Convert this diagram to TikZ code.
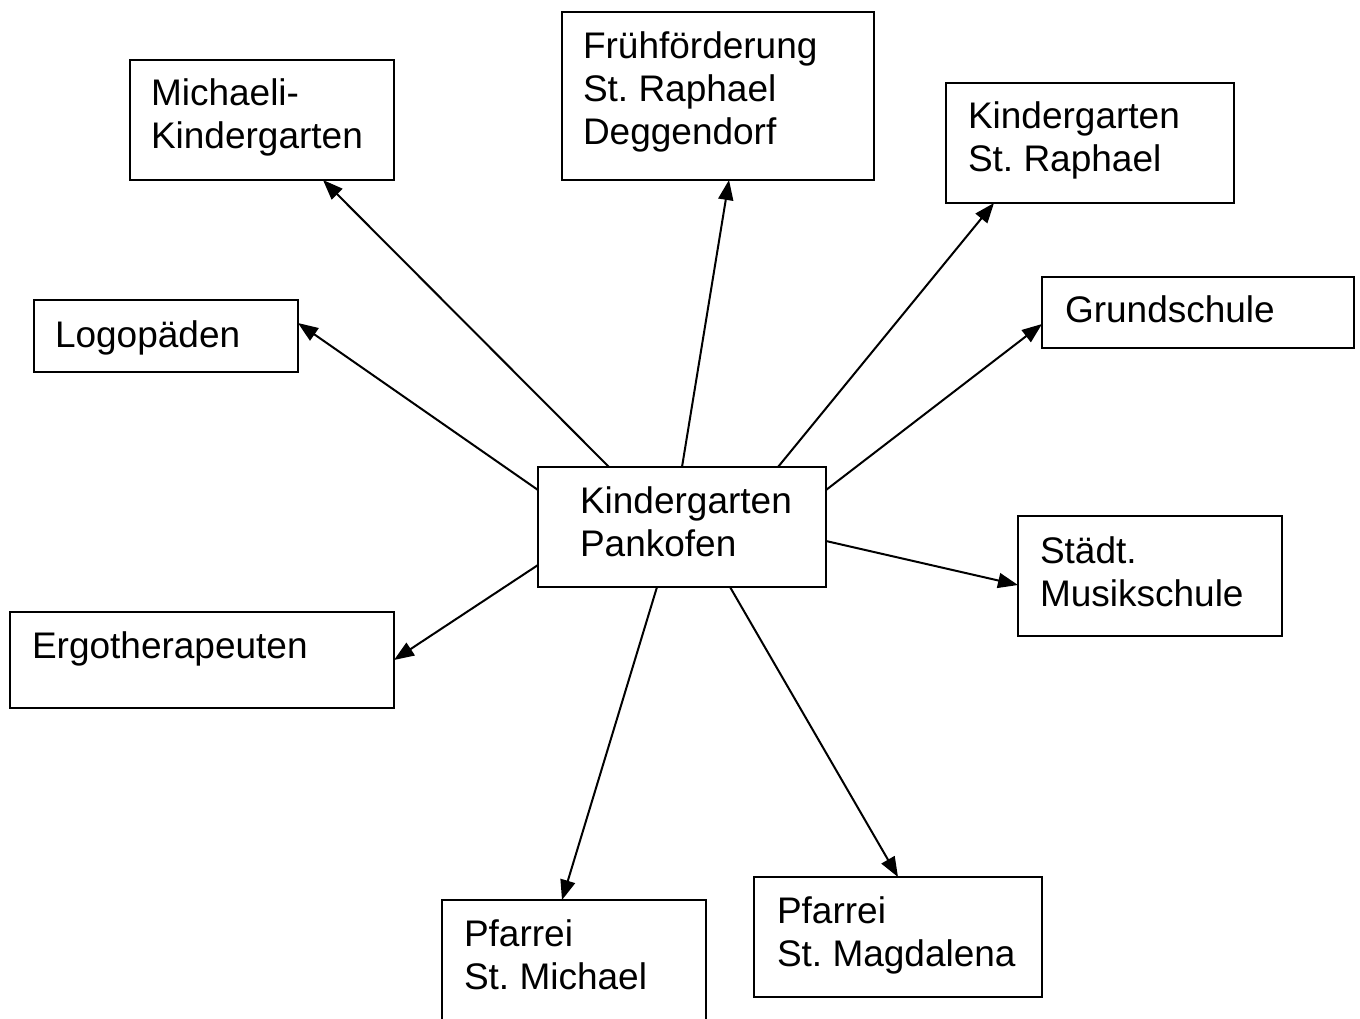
\documentclass[tikz,border=0pt]{standalone}
\usepackage{fontspec}
\setmainfont{Liberation Sans}
\usetikzlibrary{arrows.meta}
\frenchspacing
\tikzset{
  box/.style={draw, line width=2pt, rectangle, inner sep=0pt, outer sep=0pt, anchor=north west},
  txt/.style={inner sep=0pt, outer sep=0pt, anchor=base west, font=\fontsize{37}{43}\selectfont},
  arr/.style={line width=2pt, -{Triangle[length=20pt,width=15pt]}}
}
\newcommand{\twoL}[2]{\vtop{\hbox{#1}\hbox{#2}}}
\newcommand{\threeL}[3]{\vtop{\hbox{#1}\hbox{#2}\hbox{#3}}}
\begin{document}
\begin{tikzpicture}[x=1pt,y=-1pt]
\useasboundingbox (0,0) rectangle (1360,1018);
\clip (0,0) rectangle (1360,1018);
\fill[white] (0,0) rectangle (1360,1018);
% boxes
\node[box, minimum width=288pt, minimum height=120pt] (c) at (538,467) {};
\node[box, minimum width=264pt, minimum height=120pt] (mich) at (130,60) {};
\node[box, minimum width=312pt, minimum height=168pt] (fruh) at (562,12) {};
\node[box, minimum width=288pt, minimum height=120pt] (kgr) at (946,83) {};
\node[box, minimum width=312pt, minimum height=71pt] (grund) at (1042,277) {};
\node[box, minimum width=264pt, minimum height=72pt] (logo) at (34,300) {};
\node[box, minimum width=264pt, minimum height=120pt] (musik) at (1018,516) {};
\node[box, minimum width=384pt, minimum height=96pt] (ergo) at (10,612) {};
\node[box, minimum width=264pt, minimum height=150pt] (pmich) at (442,900) {};
\node[box, minimum width=288pt, minimum height=120pt] (pmag) at (754,877) {};
% texts
\node[txt] (tc) at (580,513) {\twoL{Kindergarten}{Pankofen}};
\node[txt] (tmich) at (151,105) {\twoL{Michaeli-}{Kindergarten}};
\node[txt] (tfruh) at (583,58) {\threeL{Frühförderung}{St. Raphael}{Deggendorf}};
\node[txt] (tkgr) at (968,128) {\twoL{Kindergarten}{St. Raphael}};
\node[txt] (tgrund) at (1065,322) {Grundschule};
\node[txt] (tlogo) at (55,347) {Logopäden};
\node[txt] (tmusik) at (1040,563) {\twoL{Städt.}{Musikschule}};
\node[txt] (tergo) at (32,658) {Ergotherapeuten};
\node[txt] (tpmich) at (464,946) {\twoL{Pfarrei}{St. Michael}};
\node[txt] (tpmag) at (777,923) {\twoL{Pfarrei}{St. Magdalena}};
% arrows
\draw[arr] ([xshift=71pt]c.north west) -- ([xshift=193pt]mich.south west);
\draw[arr] (c.north) -- ([xshift=167pt]fruh.south west);
\draw[arr] ([xshift=240pt]c.north west) -- ([xshift=48pt]kgr.south west);
\draw[arr] ([yshift=-23pt]c.north east) -- ([yshift=-47pt]grund.north west);
\draw[arr] ([yshift=-23pt]c.north west) -- ([yshift=-23pt]logo.north east);
\draw[arr] ([yshift=-74pt]c.north east) -- ([yshift=-69pt]musik.north west);
\draw[arr] ([yshift=-98pt]c.north west) -- ([yshift=-48pt]ergo.north east);
\draw[arr] ([xshift=119pt]c.south west) -- ([xshift=120pt]pmich.north west);
\draw[arr] ([xshift=192pt]c.south west) -- ([xshift=144pt]pmag.north west);
\end{tikzpicture}
\end{document}
